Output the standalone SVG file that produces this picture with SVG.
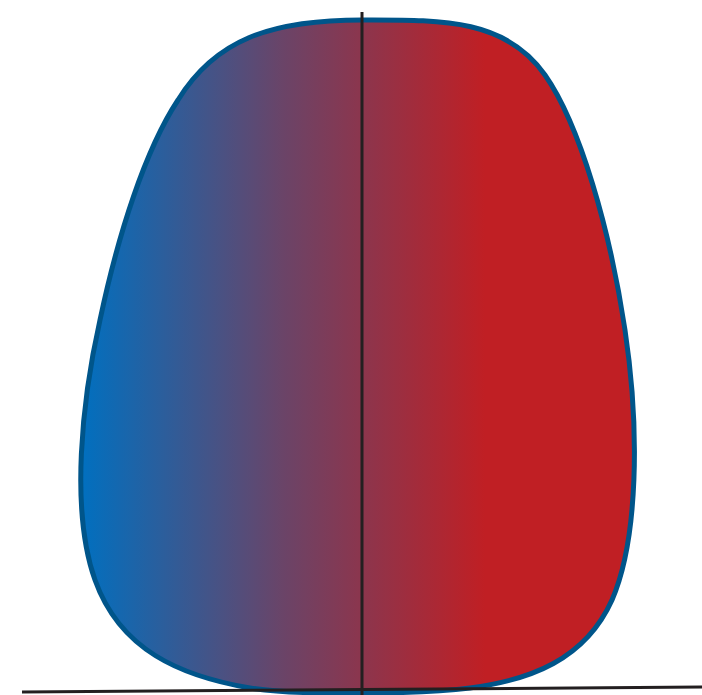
<svg xmlns="http://www.w3.org/2000/svg" width="702" height="695" viewBox="0 0 702 695">
<defs>
<linearGradient id="g" gradientUnits="userSpaceOnUse" x1="80" y1="0" x2="485" y2="0">
<stop offset="0" stop-color="#0070C0"/>
<stop offset="0.5" stop-color="#6A4468"/>
<stop offset="1" stop-color="#C01F24"/>
</linearGradient>
<style>
.blob{fill:url(#g);stroke:#00558A;stroke-width:5}
.axis{stroke:#231F20;stroke-width:3;fill:none}
</style>
</defs>
<g id="blob">
<path class="blob" d="M 362 20 C 440 20 505 18 545 75 C 580 125 610 230 625 330 C 640 430 638 540 612 600 C 585 660 530 680 470 688 C 420 694 300 696 250 688 C 180 676 120 650 95 580 C 70 510 82 400 100 320 C 118 235 145 150 178 100 C 215 40 270 20 362 20 Z"/>
</g>
<g id="connectors">
<line class="axis" x1="362" y1="12" x2="362" y2="695"/>
<line class="axis" x1="22" y1="692" x2="702" y2="687"/>
</g>
</svg>
